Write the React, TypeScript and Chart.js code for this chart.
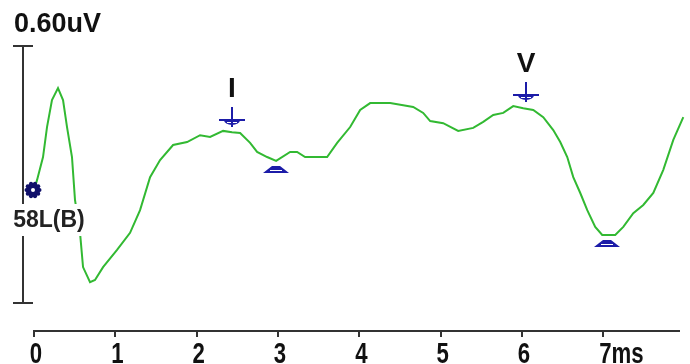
import React, { useEffect, useRef } from 'react';
import { Chart, registerables } from 'chart.js';

Chart.register(...registerables);

// Waveform (latency in ms, amplitude in uV)
const latencyMs = [
  0.0, 0.037, 0.111, 0.16, 0.221, 0.295, 0.357, 0.406, 0.467, 0.504, 0.566, 0.603, 0.689, 0.75, 0.849,
  1.021, 1.181, 1.304, 1.427, 1.55, 1.71, 1.882, 2.042, 2.165, 2.325, 2.435, 2.534, 2.657, 2.743, 2.866,
  2.977, 3.149, 3.235, 3.333, 3.604, 3.727, 3.887, 4.01, 4.133, 4.379, 4.539, 4.662, 4.785, 4.871, 5.031,
  5.215, 5.4, 5.523, 5.646, 5.769, 5.892, 6.015, 6.138, 6.261, 6.384, 6.47, 6.556, 6.63, 6.716, 6.802,
  6.9, 6.986, 7.146, 7.245, 7.368, 7.491, 7.614, 7.737, 7.86, 7.983, 8.02,
];
const amplitudeUv = [
  0.0, 0.023, 0.077, 0.147, 0.21, 0.238, 0.21, 0.147, 0.077, -0.023, -0.1, -0.18, -0.215, -0.21, -0.18,
  -0.14, -0.1, -0.047, 0.03, 0.07, 0.105, 0.112, 0.128, 0.124, 0.138, 0.135, 0.133, 0.11, 0.089, 0.077,
  0.068, 0.089, 0.089, 0.077, 0.077, 0.11, 0.147, 0.187, 0.203, 0.203, 0.198, 0.194, 0.18, 0.161, 0.156,
  0.138, 0.145, 0.159, 0.175, 0.18, 0.196, 0.191, 0.187, 0.17, 0.14, 0.112, 0.077, 0.03, -0.007, -0.047,
  -0.086, -0.105, -0.105, -0.086, -0.054, -0.035, -0.007, 0.047, 0.117, 0.17, 0.182,
];

const xTickValues = [0, 1, 2, 3, 4, 5, 6, 7];
const xTickLabels = ['0', '1', '2', '3', '4', '5', '6', '7ms'];

const peakLabels = ['I', 'V'];
const peakLatency = [2.435, 6.05];
const peakAmplitude = [0.135, 0.193];
const troughLatency = [2.98, 7.04];
const troughAmplitude = [0.068, -0.105];

const scaleBarLabel = '0.60uV';
const scaleBarTop = 0.336;
const scaleBarBottom = -0.264;
const channelLabel = '58L(B)';

const X_MIN = 0;
const X_MAX = 7.93;
const Y_MIN = -0.3292;
const Y_MAX = 0.4436;

const NAVY = '#1c1ca8';
const TEXT_FONT = '"Liberation Sans", Arial, sans-serif';

const overlay = {
  id: 'overlay',
  afterDatasetsDraw(chart: any) {
    const { ctx, chartArea, scales } = chart;
    const x = scales.x;
    const y = scales.y;
    ctx.save();

    // scale bar
    const bx = chartArea.left - 11;
    const bt = Math.round(y.getPixelForValue(scaleBarTop));
    const bb = Math.round(y.getPixelForValue(scaleBarBottom));
    ctx.strokeStyle = '#333';
    ctx.lineWidth = 2;
    ctx.beginPath();
    ctx.moveTo(bx, bt);
    ctx.lineTo(bx, bb);
    ctx.moveTo(bx - 10, bt);
    ctx.lineTo(bx + 10, bt);
    ctx.moveTo(bx - 10, bb);
    ctx.lineTo(bx + 10, bb);
    ctx.stroke();

    ctx.fillStyle = '#111';
    ctx.font = 'bold 27px ' + TEXT_FONT;
    ctx.textAlign = 'left';
    ctx.textBaseline = 'alphabetic';
    ctx.fillText(scaleBarLabel, bx - 9, bt - 14);

    // channel label with white box
    const y0 = y.getPixelForValue(0);
    ctx.fillStyle = '#fff';
    ctx.fillRect(bx - 11, y0 + 14, 74, 32);
    ctx.fillStyle = '#222';
    ctx.font = 'bold 23px ' + TEXT_FONT;
    ctx.textAlign = 'center';
    ctx.fillText(channelLabel, bx + 26, y0 + 37);

    // start marker
    const sx = x.getPixelForValue(0) - 1;
    ctx.fillStyle = '#10106a';
    ctx.beginPath();
    ctx.arc(sx, y0, 7, 0, Math.PI * 2);
    ctx.fill();
    for (let i = 0; i < 10; i++) {
      const a = (i / 10) * Math.PI * 2;
      ctx.beginPath();
      ctx.arc(sx + Math.cos(a) * 6.5, y0 + Math.sin(a) * 6.5, 2, 0, Math.PI * 2);
      ctx.fill();
    }
    ctx.fillStyle = '#fff';
    ctx.beginPath();
    ctx.arc(sx, y0, 2, 0, Math.PI * 2);
    ctx.fill();

    // peak markers
    for (let i = 0; i < peakLatency.length; i++) {
      const px = Math.round(x.getPixelForValue(peakLatency[i]));
      const py = Math.round(y.getPixelForValue(peakAmplitude[i]));
      ctx.fillStyle = NAVY;
      ctx.beginPath();
      ctx.ellipse(px, py - 12, 8, 5, 0, 0, Math.PI);
      ctx.fill();
      ctx.strokeStyle = '#fff';
      ctx.lineWidth = 1;
      ctx.beginPath();
      ctx.moveTo(px - 5, py - 9.5);
      ctx.lineTo(px + 5, py - 9.5);
      ctx.stroke();
      ctx.strokeStyle = NAVY;
      ctx.lineWidth = 2;
      ctx.beginPath();
      ctx.moveTo(px, py - 25);
      ctx.lineTo(px, py - 5);
      ctx.moveTo(px - 13, py - 12);
      ctx.lineTo(px + 13, py - 12);
      ctx.stroke();

      ctx.fillStyle = '#111';
      ctx.font = 'bold 28px ' + TEXT_FONT;
      ctx.textAlign = 'center';
      ctx.textBaseline = 'alphabetic';
      ctx.fillText(peakLabels[i], px, py - 35);
    }

    // trough markers
    for (let i = 0; i < troughLatency.length; i++) {
      const px = Math.round(x.getPixelForValue(troughLatency[i]));
      const py = Math.round(y.getPixelForValue(troughAmplitude[i]));
      ctx.fillStyle = NAVY;
      ctx.beginPath();
      ctx.moveTo(px - 4, py + 5);
      ctx.lineTo(px + 4, py + 5);
      ctx.lineTo(px + 13, py + 12);
      ctx.lineTo(px - 13, py + 12);
      ctx.closePath();
      ctx.fill();
      ctx.strokeStyle = '#fff';
      ctx.lineWidth = 1;
      ctx.beginPath();
      ctx.moveTo(px - 6, py + 9.5);
      ctx.lineTo(px + 6, py + 9.5);
      ctx.stroke();
    }

    // x tick labels in a narrow (horizontally condensed) bold face
    const squeeze = 0.74;
    ctx.fillStyle = '#111';
    ctx.font = 'bold 30px ' + TEXT_FONT;
    ctx.textAlign = 'left';
    ctx.textBaseline = 'alphabetic';
    const baseY = chartArea.bottom + 32;
    for (let i = 0; i < xTickValues.length; i++) {
      const px = x.getPixelForValue(xTickValues[i]);
      const numW = ctx.measureText(String(xTickValues[i])).width * squeeze;
      const startX = px - numW / 2 + 2;
      ctx.save();
      ctx.translate(startX, baseY);
      ctx.scale(squeeze, 1);
      ctx.fillText(xTickLabels[i], 0, 0);
      ctx.restore();
    }

    ctx.restore();
  },
};

export default function App() {
  const canvasRef = useRef<HTMLCanvasElement | null>(null);

  useEffect(() => {
    const canvas = canvasRef.current;
    if (!canvas) return;
    const data = latencyMs.map((t, i) => ({ x: t, y: amplitudeUv[i] }));
    const chart = new Chart(canvas, {
      type: 'line',
      data: {
        datasets: [
          {
            data,
            borderColor: 'rgb(50,185,50)',
            borderWidth: 2,
            pointRadius: 0,
            tension: 0,
            fill: false,
            clip: false as any,
          },
        ],
      },
      options: {
        responsive: false,
        animation: false,
        events: [],
        layout: { padding: { left: 34, right: 11, top: 0, bottom: 0 } },
        plugins: {
          legend: { display: false },
          tooltip: { enabled: false },
          title: { display: false },
        },
        scales: {
          x: {
            type: 'linear',
            min: X_MIN,
            max: X_MAX,
            afterBuildTicks: (s: any) => {
              s.ticks = xTickValues.map((v) => ({ value: v }));
            },
            afterFit: (s: any) => {
              s.height = 33;
            },
            grid: {
              display: true,
              drawOnChartArea: false,
              drawTicks: true,
              tickLength: 6,
              color: '#333',
              lineWidth: 2,
            },
            border: { display: true, color: '#333', width: 2 },
            ticks: {
              display: false,
              autoSkip: false,
              maxRotation: 0,
            },
          },
          y: {
            type: 'linear',
            display: false,
            min: Y_MIN,
            max: Y_MAX,
          },
        },
      },
      plugins: [overlay],
    } as any);
    return () => chart.destroy();
  }, []);

  return (
    <div style={{ position: 'fixed', left: 0, top: 0, width: 690, height: 364, background: '#fff' }}>
      <canvas ref={canvasRef} width={690} height={364} />
    </div>
  );
}
